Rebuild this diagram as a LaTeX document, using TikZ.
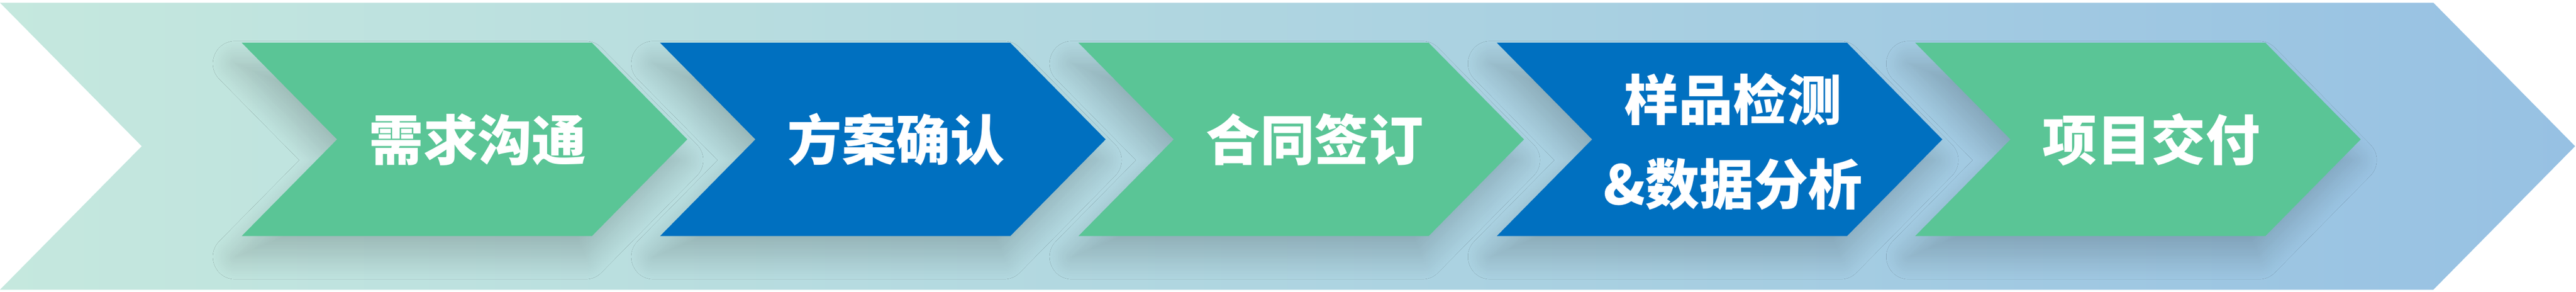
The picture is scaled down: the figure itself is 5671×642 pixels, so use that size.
\documentclass[tikz,border=0pt]{standalone}
\usepackage{fontspec}
\newfontfamily\cjkfont{Noto Sans CJK SC}
\usetikzlibrary{shadows.blur}
\definecolor{stepgreen}{HTML}{5AC596}
\definecolor{stepblue}{HTML}{0070C0}
\definecolor{bandleft}{HTML}{C5E8DE}
\definecolor{bandright}{HTML}{97C1E3}

\begin{document}
\begin{tikzpicture}[
x=0.01cm, y=-0.01cm,
greenstep/.style={
    fill=stepgreen,
    blur shadow={shadow xshift=-4pt, shadow yshift=-13pt, shadow blur radius=14pt, shadow blur steps=20, shadow opacity=18},
},
bluestep/.style={
    fill=stepblue,
    blur shadow={shadow xshift=-4pt, shadow yshift=-13pt, shadow blur radius=14pt, shadow blur steps=20, shadow opacity=18},
},
steplabel/.style={
    text=white,
    font=\cjkfont\bfseries\fontsize{34}{53}\selectfont,
    align=center,
    inner sep=0pt, % No inner spacing
},
]
\useasboundingbox (0,0) rectangle (5671,642);

% background band
\shade[left color=bandleft, right color=bandright]
    (0,6) -- (5357,6) -- (5669,322) -- (5357,638) -- (0,638) -- (312,322) -- cycle;

% steps
\fill[greenstep] (532,94) -- (1303,94) -- (1513,307) -- (1303,520) -- (532,520) -- (742,307) -- cycle;
\fill[bluestep] (1453,94) -- (2224,94) -- (2434,307) -- (2224,520) -- (1453,520) -- (1663,307) -- cycle;
\fill[greenstep] (2374,94) -- (3145,94) -- (3355,307) -- (3145,520) -- (2374,520) -- (2584,307) -- cycle;
\fill[bluestep] (3295,94) -- (4066,94) -- (4276,307) -- (4066,520) -- (3295,520) -- (3505,307) -- cycle;
\fill[greenstep] (4216,94) -- (4987,94) -- (5197,307) -- (4987,520) -- (4216,520) -- (4426,307) -- cycle;

\node[steplabel] (need) at (1052,307) {需求沟通};
\node[steplabel] (plan) at (1973,307) {方案确认};
\node[steplabel] (contract) at (2894,307) {合同签订};
\node[steplabel] (test) at (3815,312) {样品检测\\\&数据分析};
\node[steplabel] (deliver) at (4736,307) {项目交付};

\end{tikzpicture}
\end{document}
